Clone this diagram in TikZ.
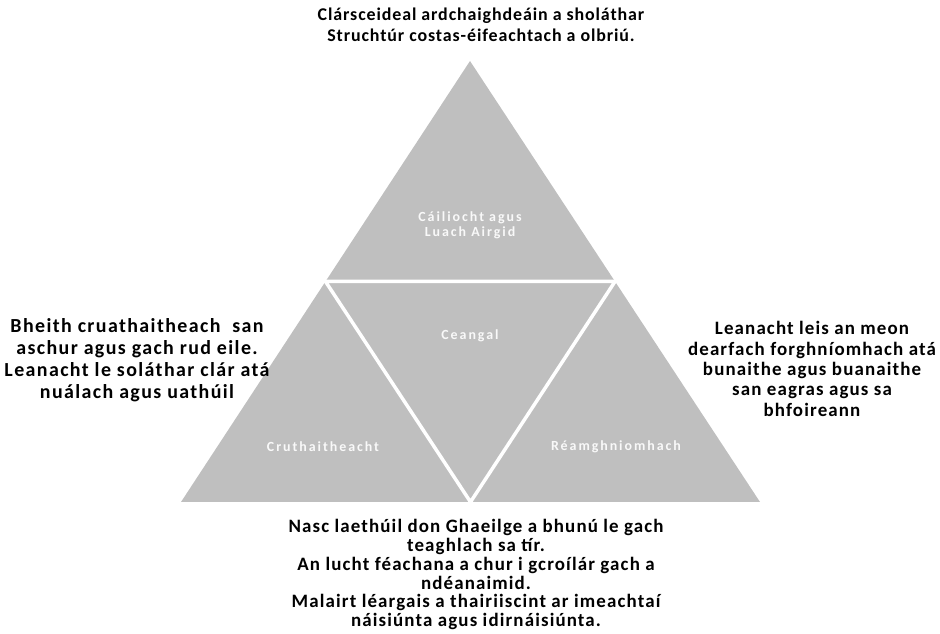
\documentclass[tikz,border=0pt]{standalone}
\usepackage{fontspec}
\setmainfont{Carlito}
\tikzset{
  sidetext/.style={align=center,inner sep=0pt},
  parttext/.style={align=center,text=white!95!gray,inner sep=0pt,
    font=\bfseries\addfontfeatures{LetterSpace=14}\fontsize{14}{15}\selectfont},
}
\begin{document}
\begin{tikzpicture}[x=1bp,y=1bp]
\useasboundingbox (0bp,0bp) rectangle (940bp,634bp);
%%
\coordinate (apex) at (470bp,573bp);
\coordinate (baseleft) at (181bp,132bp);
\coordinate (baseright) at (760bp,132bp);
\coordinate (midleft) at (325.5bp,352.5bp);
\coordinate (midright) at (615bp,352.5bp);
\coordinate (midbase) at (470.5bp,132bp);
  \fill [black!25] (apex) -- (baseleft) -- (baseright) -- cycle;
  \draw [white,line width=3.5bp,line join=miter] (midleft) -- (midright) -- (midbase) -- cycle;
%
\node (quality) at (470bp,409bp) [parttext] {Cáiliocht agus\\Luach Airgid};
  \node (link) at (470bp,298bp) [parttext] {Ceangal};
  \node (creative) at (323bp,187bp) [parttext] {Cruthaitheacht};
  \node (proactive) at (616bp,187bp) [parttext] {Réamghniomhach};
%
\node (toptext) at (481bp,609.5bp) [sidetext,font=\bfseries\addfontfeatures{LetterSpace=5}\fontsize{18}{21}\selectfont] {Clársceideal ardchaighdeáin a sholáthar\\Struchtúr costas-éifeachtach a olbriú.};
  \node (lefttext) at (137bp,274bp) [sidetext,font=\bfseries\addfontfeatures{LetterSpace=7}\fontsize{20}{22}\selectfont] {Bheith cruathaitheach~ san\\aschur agus gach rud eile.\\Leanacht le soláthar clár atá\\nuálach agus uathúil};
  \node (righttext) at (812bp,265bp) [sidetext,font=\bfseries\addfontfeatures{LetterSpace=6}\fontsize{19}{20.5}\selectfont] {Leanacht leis an meon\\dearfach forghníomhach atá\\bunaithe agus buanaithe\\san eagras agus sa\\bhfoireann};
  \node (bottomtext) at (476bp,59.5bp) [sidetext,font=\bfseries\addfontfeatures{LetterSpace=6}\fontsize{19}{19}\selectfont] {Nasc laethúil don Ghaeilge a bhunú le gach\\teaghlach sa tír.\\An lucht féachana a chur i gcroílár gach a\\ndéanaimid.\\Malairt léargais a thairiiscint ar imeachtaí\\náisiúnta agus idirnáisiúnta.};
%
\end{tikzpicture}
\end{document}
